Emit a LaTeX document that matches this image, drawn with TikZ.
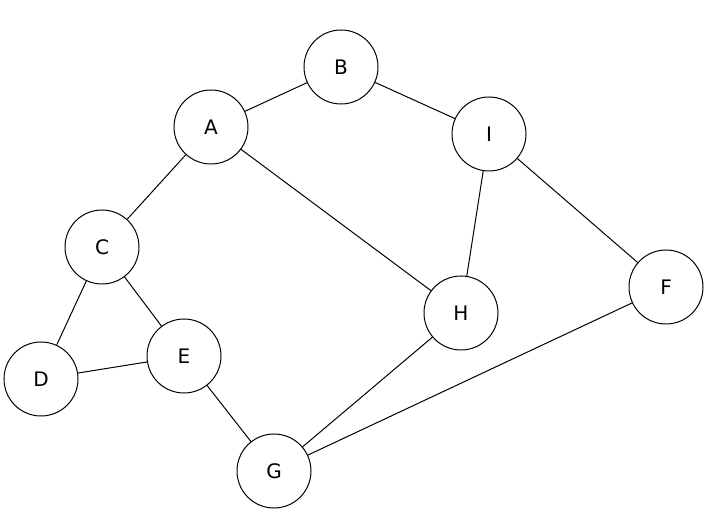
\documentclass[tikz,border=0pt]{standalone}
\usepackage{fontspec}
\setmainfont{DejaVu Sans}
\begin{document}
\begin{tikzpicture}[x=1pt,y=-1pt,
  v/.style={circle,draw,line width=1pt,minimum size=74pt,inner sep=0pt,font=\fontsize{20}{24}\selectfont},
  e/.style={line width=1pt}]
\useasboundingbox (0,0) rectangle (718,526);
\node[v] (A) at (211,127) {A};
\node[v] (B) at (341,67) {B};
\node[v] (I) at (489,134) {I};
\node[v] (C) at (102,247) {C};
\node[v] (H) at (461,313) {H};
\node[v] (F) at (666,287) {F};
\node[v] (D) at (41,379) {D};
\node[v] (E) at (184,356) {E};
\node[v] (G) at (274,471) {G};
\draw[e] (A)--(B) (B)--(I) (A)--(C) (A)--(H) (I)--(H) (I)--(F)
  (C)--(D) (C)--(E) (D)--(E) (E)--(G) (H)--(G) (F)--(G);
\end{tikzpicture}
\end{document}
